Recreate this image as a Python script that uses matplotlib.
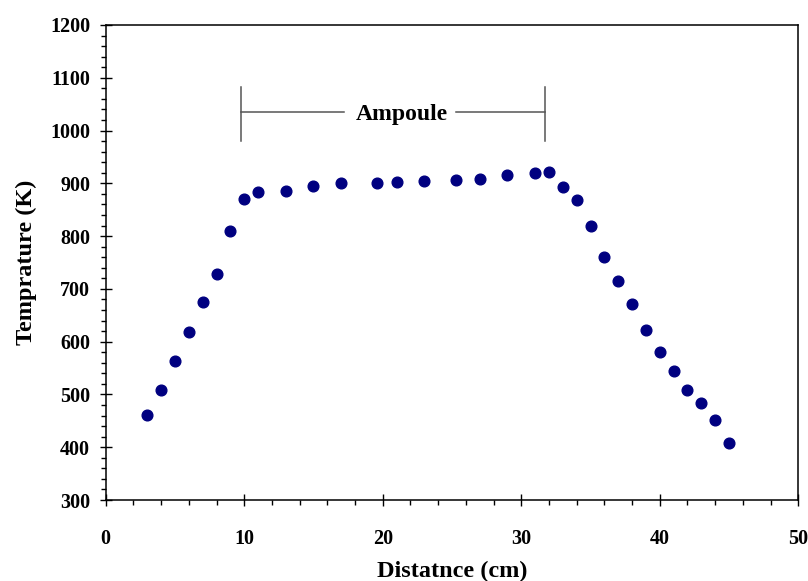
import numpy as np
import matplotlib.pyplot as plt
from matplotlib.ticker import MultipleLocator

# data
distance = [3, 4, 5, 6, 7, 8, 9, 10, 11, 13, 15, 17, 19.6, 21, 23, 25.3, 27, 29, 31, 32,
            33, 34, 35, 36, 37, 38, 39, 40, 41, 42, 43, 44, 45]
temperature = [461, 508, 563, 619, 675, 729, 809, 871, 884, 886, 895, 900, 901, 903, 905, 907,
               909, 915, 919, 921, 893, 868, 819, 761, 714, 671, 623, 580, 545, 508, 483, 451, 408]

ampoule_start = 9.75
ampoule_end = 31.7
ampoule_y = 1036

plt.rcParams['font.family'] = ['Liberation Serif', 'DejaVu Serif']
plt.rcParams['font.weight'] = 'bold'

fig = plt.figure(figsize=(8.08, 5.81), dpi=100)
ax = fig.add_axes([0.1308, 0.1394, 0.8572, 0.8176])

ax.plot(distance, temperature, marker="o", ls="none", color="#000080", markersize=7.7)

# ampoule bracket
bc = "#555555"
ax.plot([ampoule_start, ampoule_start], [981, 1083], color=bc, lw=1.1)
ax.plot([ampoule_end, ampoule_end], [981, 1083], color=bc, lw=1.1)
ax.plot([ampoule_start, 17.2], [ampoule_y, ampoule_y], color=bc, lw=1.1)
ax.plot([25.3, ampoule_end], [ampoule_y, ampoule_y], color=bc, lw=1.1)
ax.text(21.4, 1030, "Ampoule", ha="center", va="center", fontsize=17, fontweight="bold")

ax.set_xlim(0, 50)
ax.set_ylim(300, 1200)
ax.xaxis.set_major_locator(MultipleLocator(10))
ax.xaxis.set_minor_locator(MultipleLocator(2))
ax.yaxis.set_major_locator(MultipleLocator(100))
ax.yaxis.set_minor_locator(MultipleLocator(20))
ax.tick_params(which="major", direction="inout", length=8.5, width=1.0, labelsize=14.5)
ax.tick_params(which="minor", direction="out", length=3.6, width=1.0)
ax.tick_params(axis="x", which="major", pad=16.5)
ax.tick_params(axis="y", which="major", pad=7)
for s in ax.spines.values():
    s.set_linewidth(1.1)

ax.set_xlabel("Distatnce (cm)", fontsize=17.5, fontweight="bold", labelpad=9)
ax.set_ylabel("Temprature (K)", fontsize=17.5, fontweight="bold", labelpad=9)

fig.savefig("out.png", dpi=100)
